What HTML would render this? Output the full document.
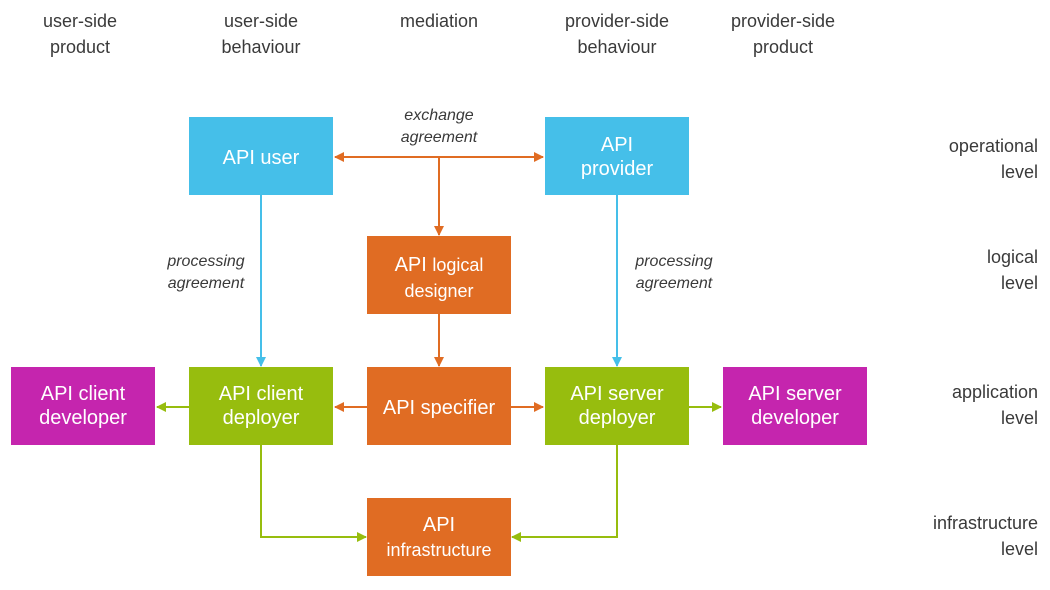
<!DOCTYPE html>
<html><head><meta charset="utf-8"><style>
html,body{margin:0;padding:0;background:#fff;}
svg{display:block;font-family:"Liberation Sans",sans-serif;}
.h{fill:#3a3a3a;font-size:18px;text-anchor:middle;}
.r{fill:#3a3a3a;font-size:18px;text-anchor:end;}
.i{fill:#3a3a3a;font-size:16px;font-style:italic;text-anchor:middle;}
.b{fill:#fff;font-size:20px;text-anchor:middle;}
.s{fill:#fff;font-size:18px;text-anchor:middle;}
</style></head><body>
<svg width="1050" height="590" viewBox="0 0 1050 590">
<defs>
<marker id="ao" markerWidth="10" markerHeight="10" refX="9" refY="5" orient="auto" markerUnits="userSpaceOnUse"><path d="M0,0 L10,5 L0,10 Z" fill="#e06c23"/></marker>
<marker id="ab" markerWidth="10" markerHeight="10" refX="9" refY="5" orient="auto" markerUnits="userSpaceOnUse"><path d="M0,0 L10,5 L0,10 Z" fill="#45bfe9"/></marker>
<marker id="ag" markerWidth="10" markerHeight="10" refX="9" refY="5" orient="auto" markerUnits="userSpaceOnUse"><path d="M0,0 L10,5 L0,10 Z" fill="#97bd0e"/></marker>
</defs>
<text class="h" x="80" y="27">user-side</text><text class="h" x="80" y="53">product</text>
<text class="h" x="261" y="27">user-side</text><text class="h" x="261" y="53">behaviour</text>
<text class="h" x="439" y="27">mediation</text>
<text class="h" x="617" y="27">provider-side</text><text class="h" x="617" y="53">behaviour</text>
<text class="h" x="783" y="27">provider-side</text><text class="h" x="783" y="53">product</text>
<text class="r" x="1038" y="152">operational</text><text class="r" x="1038" y="178">level</text>
<text class="r" x="1038" y="263">logical</text><text class="r" x="1038" y="289">level</text>
<text class="r" x="1038" y="398">application</text><text class="r" x="1038" y="424">level</text>
<text class="r" x="1038" y="529">infrastructure</text><text class="r" x="1038" y="555">level</text>
<text class="i" x="439" y="120">exchange</text><text class="i" x="439" y="142">agreement</text>
<text class="i" x="206" y="266">processing</text><text class="i" x="206" y="288">agreement</text>
<text class="i" x="674" y="266">processing</text><text class="i" x="674" y="288">agreement</text>
<g fill="none" stroke-width="2">
<line x1="439" y1="157" x2="335" y2="157" stroke="#e06c23" marker-end="url(#ao)"/>
<line x1="439" y1="157" x2="543" y2="157" stroke="#e06c23" marker-end="url(#ao)"/>
<line x1="439" y1="157" x2="439" y2="235" stroke="#e06c23" marker-end="url(#ao)"/>
<line x1="439" y1="314" x2="439" y2="366" stroke="#e06c23" marker-end="url(#ao)"/>
<line x1="261" y1="195" x2="261" y2="366" stroke="#45bfe9" marker-end="url(#ab)"/>
<line x1="617" y1="195" x2="617" y2="366" stroke="#45bfe9" marker-end="url(#ab)"/>
<line x1="367" y1="407" x2="335" y2="407" stroke="#e06c23" marker-end="url(#ao)"/>
<line x1="511" y1="407" x2="543" y2="407" stroke="#e06c23" marker-end="url(#ao)"/>
<line x1="189" y1="407" x2="157" y2="407" stroke="#97bd0e" marker-end="url(#ag)"/>
<line x1="689" y1="407" x2="721" y2="407" stroke="#97bd0e" marker-end="url(#ag)"/>
<polyline points="261,445 261,537 366,537" stroke="#97bd0e" marker-end="url(#ag)"/>
<polyline points="617,445 617,537 512,537" stroke="#97bd0e" marker-end="url(#ag)"/>
</g>
<rect x="189" y="117" width="144" height="78" fill="#45bfe9"/>
<rect x="545" y="117" width="144" height="78" fill="#45bfe9"/>
<rect x="367" y="236" width="144" height="78" fill="#e06c23"/>
<rect x="11" y="367" width="144" height="78" fill="#c525ae"/>
<rect x="189" y="367" width="144" height="78" fill="#97bd0e"/>
<rect x="367" y="367" width="144" height="78" fill="#e06c23"/>
<rect x="545" y="367" width="144" height="78" fill="#97bd0e"/>
<rect x="723" y="367" width="144" height="78" fill="#c525ae"/>
<rect x="367" y="498" width="144" height="78" fill="#e06c23"/>
<text class="b" x="261" y="164">API user</text>
<text class="b" x="617" y="151">API</text><text class="b" x="617" y="175">provider</text>
<text class="b" x="439" y="271">API <tspan font-size="18">logical</tspan></text><text class="s" x="439" y="297">designer</text>
<text class="b" x="83" y="400">API client</text><text class="b" x="83" y="424">developer</text>
<text class="b" x="261" y="400">API client</text><text class="b" x="261" y="424">deployer</text>
<text class="b" x="439" y="414">API specifier</text>
<text class="b" x="617" y="400">API server</text><text class="b" x="617" y="424">deployer</text>
<text class="b" x="795" y="400">API server</text><text class="b" x="795" y="424">developer</text>
<text class="b" x="439" y="531">API</text><text class="s" x="439" y="556">infrastructure</text>
</svg>
</body></html>
